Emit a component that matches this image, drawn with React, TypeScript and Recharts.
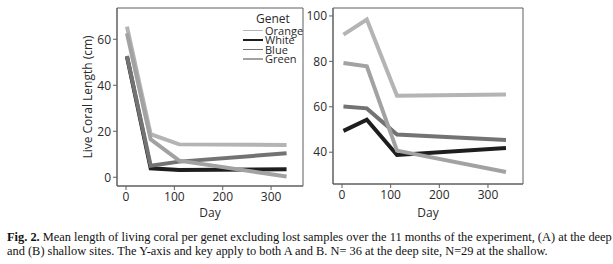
import { LineChart, Line, XAxis, YAxis, ReferenceArea } from 'recharts';

const GENETS = ['Orange', 'White', 'Blue', 'Green'];
const GENET_COLORS: Record<string, string> = {
  Orange: '#b4b4b4',
  White:  '#1e1e1e',
  Blue:   '#737373',
  Green:  '#a2a2a2',
};

// (A) deep site
const deepDays   = [2, 51, 110, 332];
const deepOrange = [65.5, 18.7, 14.3, 14.0];
const deepWhite  = [52.5, 3.9, 3.2, 3.5];
const deepBlue   = [52.8, 5.0, 6.8, 10.4];
const deepGreen  = [62.6, 16.5, 7.2, 0.3];

// (B) shallow site
const shallowDays   = [3, 51, 113, 337];
const shallowOrange = [91.8, 98.4, 64.9, 65.4];
const shallowWhite  = [49.4, 54.3, 38.8, 41.9];
const shallowBlue   = [60.1, 59.3, 47.8, 45.4];
const shallowGreen  = [79.3, 77.8, 40.7, 31.3];

const dayTicks = [0, 100, 200, 300];
const deepTicks = [0, 20, 40, 60];
const shallowTicks = [40, 60, 80, 100];

const FONT = '"Open Sans", "DejaVu Sans", sans-serif';
const FRAME = '#5e5e5e';
const TEXT = '#2a2a2a';

const buildRows = (days: number[], series: Record<string, number[]>) =>
  days.map((day, i) => {
    const row: Record<string, number> = { day };
    GENETS.forEach((g) => { row[g] = series[g][i]; });
    return row;
  });

const deepData = buildRows(deepDays, {
  Orange: deepOrange, White: deepWhite, Blue: deepBlue, Green: deepGreen,
});
const shallowData = buildRows(shallowDays, {
  Orange: shallowOrange, White: shallowWhite, Blue: shallowBlue, Green: shallowGreen,
});

const tickStyle = { fontSize: 12, fill: TEXT, fontFamily: FONT };

interface PanelProps {
  data: Record<string, number>[];
  xDomain: [number, number];
  yDomain: [number, number];
  yTicks: number[];
  width: number;
  height: number;
  margin: { top: number; right: number; bottom: number; left: number };
}

function Panel({ data, xDomain, yDomain, yTicks, width, height, margin }: PanelProps) {
  return (
    <LineChart width={width} height={height} data={data} margin={margin}>
      <XAxis
        dataKey="day"
        type="number"
        domain={xDomain}
        ticks={dayTicks}
        allowDataOverflow
        stroke={FRAME}
        tick={tickStyle}
        tickSize={4}
        height={20}
      />
      <YAxis
        type="number"
        domain={yDomain}
        ticks={yTicks}
        allowDataOverflow
        stroke={FRAME}
        tick={tickStyle}
        tickSize={4}
        width={40}
      />
      {/* plot frame */}
      <ReferenceArea
        x1={xDomain[0]}
        x2={xDomain[1]}
        y1={yDomain[0]}
        y2={yDomain[1]}
        fill="none"
        stroke={FRAME}
        strokeWidth={1}
        ifOverflow="visible"
      />
      {GENETS.map((g) => (
        <Line
          key={g}
          dataKey={g}
          stroke={GENET_COLORS[g]}
          strokeWidth={4}
          strokeLinejoin="miter"
          dot={false}
          isAnimationActive={false}
        />
      ))}
    </LineChart>
  );
}

export default function App() {
  return (
    <div style={{ position: 'absolute', left: 0, top: 0, width: 613, height: 264, background: '#fff', fontFamily: FONT }}>
      <div style={{ position: 'absolute', left: 0, top: 0 }}>
        <Panel
          data={deepData}
          xDomain={[-18.6, 366]}
          yDomain={[-3.8, 73.6]}
          yTicks={deepTicks}
          width={320}
          height={215}
          margin={{ top: 8, right: 17, bottom: 9, left: 77 }}
        />
      </div>
      <div style={{ position: 'absolute', left: 300, top: 0 }}>
        <Panel
          data={shallowData}
          xDomain={[-18.5, 372]}
          yDomain={[26, 103.5]}
          yTicks={shallowTicks}
          width={240}
          height={215}
          margin={{ top: 8, right: 17, bottom: 11, left: -7 }}
        />
      </div>

      {/* y-axis title */}
      <div style={{
        position: 'absolute', left: 87, top: 97, transform: 'translate(-50%, -50%) rotate(-90deg)',
        fontSize: 12, color: TEXT, whiteSpace: 'nowrap',
      }}>
        Live Coral Length (cm)
      </div>
      {/* x-axis titles */}
      <div style={{ position: 'absolute', left: 210, top: 212, transform: 'translate(-50%, -50%)', fontSize: 12, color: TEXT }}>Day</div>
      <div style={{ position: 'absolute', left: 428, top: 212, transform: 'translate(-50%, -50%)', fontSize: 12, color: TEXT }}>Day</div>

      {/* legend */}
      <div style={{ position: 'absolute', left: 256, top: 13, fontSize: 12, color: TEXT, lineHeight: '12px' }}>Genet</div>
      {GENETS.map((g, i) => (
        <div key={g} style={{ position: 'absolute', left: 243, top: 25.5 + i * 9.6, display: 'flex', alignItems: 'center', height: 9.6 }}>
          <div style={{ width: 20, height: 1.5, background: GENET_COLORS[g], marginRight: 2 }} />
          <span style={{ fontSize: 11, color: TEXT, lineHeight: '9.6px' }}>{g}</span>
        </div>
      ))}

      {/* caption */}
      <div style={{
        position: 'absolute', left: 7, top: 230, width: 606, fontFamily: '"Liberation Serif", "Times New Roman", serif',
        fontSize: 12.4, lineHeight: '14px', color: '#111',
      }}>
        <b>Fig. 2.</b> Mean length of living coral per genet excluding lost samples over the 11 months of the experiment, (A) at the deep and (B) shallow sites. The Y-axis and key apply to both A and B. N= 36 at the deep site, N=29 at the shallow.
      </div>
    </div>
  );
}
